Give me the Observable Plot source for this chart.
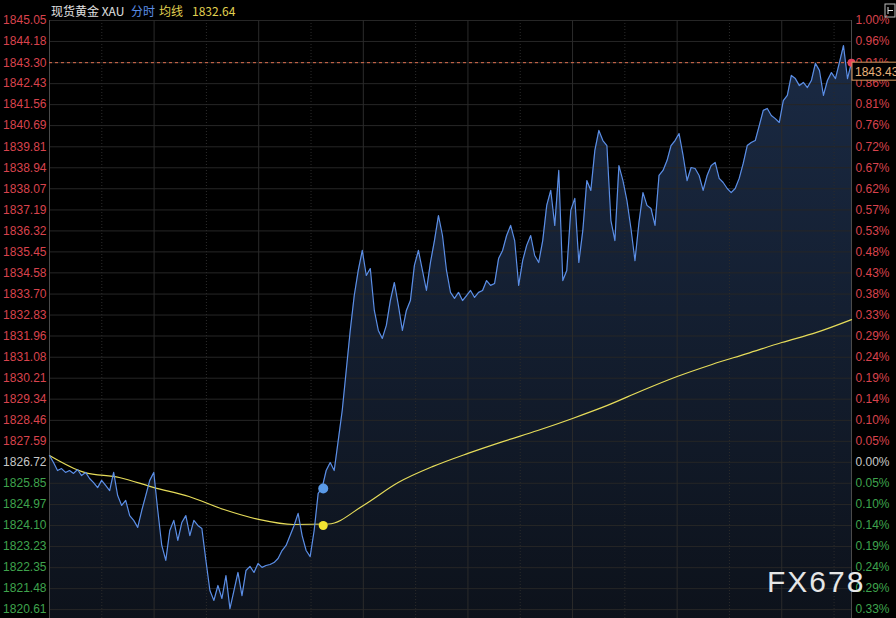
<!DOCTYPE html>
<html><head><meta charset="utf-8">
<script src="https://cdn.jsdelivr.net/npm/d3@7"></script>
<script src="https://cdn.jsdelivr.net/npm/@observablehq/plot@0.6"></script>
<style>
html,body{margin:0;padding:0;background:#000;}
#chart{position:relative;width:896px;height:618px;overflow:hidden;}
</style></head><body><div id="chart"></div>
<script>
// ---- data ----
const yTicks = [1845.05,1844.18,1843.30,1842.43,1841.56,1840.69,1839.81,1838.94,1838.07,1837.19,1836.32,1835.45,1834.58,1833.70,1832.83,1831.96,1831.08,1830.21,1829.34,1828.46,1827.59,1826.72,1825.85,1824.97,1824.10,1823.23,1822.35,1821.48,1820.61];
const pctLabels = ["1.00%","0.96%","0.91%","0.86%","0.81%","0.76%","0.72%","0.67%","0.62%","0.57%","0.53%","0.48%","0.43%","0.38%","0.33%","0.29%","0.24%","0.19%","0.14%","0.10%","0.05%","0.00%","0.05%","0.10%","0.14%","0.19%","0.24%","0.29%","0.33%"];
const baseline = 1826.72;
const prices = [
1827.00,1826.71,1826.38,1826.46,1826.30,1826.38,1826.26,1826.42,1826.17,1826.30,
1826.05,1825.88,1825.67,1825.97,1825.76,1825.55,1826.30,1825.34,1824.93,1825.14,
1824.51,1824.31,1824.02,1824.72,1825.34,1825.97,1826.30,1824.72,1823.27,1822.65,
1823.89,1824.31,1823.48,1824.22,1824.51,1823.68,1824.31,1824.10,1823.97,1822.65,
1821.40,1820.99,1821.61,1821.07,1822.02,1820.65,1821.40,1822.15,1821.19,1822.23,
1822.40,1822.15,1822.52,1822.36,1822.44,1822.48,1822.56,1822.73,1823.06,1823.27,
1823.68,1824.10,1824.60,1823.68,1823.06,1822.81,1823.89,1825.43,1825.67,1826.38,
1826.71,1826.38,1827.62,1828.87,1830.53,1832.19,1833.64,1834.68,1835.51,1834.47,
1834.76,1833.02,1832.19,1831.86,1832.40,1833.43,1834.18,1833.23,1832.19,1833.02,
1833.43,1834.89,1835.51,1834.68,1833.85,1835.01,1835.92,1836.96,1836.13,1834.68,
1833.77,1833.52,1833.77,1833.43,1833.64,1833.85,1833.56,1833.77,1833.85,1834.26,
1834.06,1834.14,1835.18,1835.51,1836.13,1836.55,1835.92,1834.06,1835.09,1835.72,
1836.13,1835.30,1835.01,1835.92,1837.38,1838.00,1836.55,1838.83,1834.26,1834.68,
1837.17,1837.67,1835.01,1836.34,1838.41,1838.00,1839.66,1840.49,1840.07,1839.86,
1836.75,1835.92,1839.03,1838.41,1837.58,1836.42,1835.09,1836.67,1837.91,1837.38,
1837.25,1836.55,1838.62,1838.83,1839.24,1839.86,1840.07,1840.36,1839.45,1838.41,
1838.95,1838.91,1838.62,1838.00,1838.62,1839.03,1839.16,1838.50,1838.33,1838.08,
1837.91,1838.08,1838.50,1839.12,1839.86,1839.99,1840.07,1840.69,1841.32,1841.40,
1841.11,1840.98,1840.82,1841.73,1841.94,1842.77,1842.64,1842.35,1842.48,1842.27,
1842.56,1843.27,1842.98,1841.94,1842.56,1842.89,1842.64,1843.31,1844.01,1842.64,
1843.30];
const avgHours = [0,1,2,3,4,5,6,7,8,9,10,11,12,13,14,15,16,17,18,19,20,21,22,23];
const avgValues = [1827.00,1826.30,1826.09,1825.67,1825.30,1824.76,1824.35,1824.14,1824.16,1824.93,1825.88,1826.55,1827.09,1827.58,1828.04,1828.54,1829.08,1829.70,1830.28,1830.78,1831.23,1831.69,1832.11,1832.64];
const lastQuote = 1843.43;
const avgLast = 1832.64;
const eventMinute = 471, eventPrice = 1825.63, eventAvg = 1824.10;
const dayMinutes = 1380;
const solidGrid = [180,360,540,720,900,1080,1260];
const dottedGrid = [90,270,450,630,810,990,1170,1350];
const yMin = 1820.24, yMax = 1845.05;

// ---- build ----
const series = prices.map((p,i)=>({t:i*dayMinutes/(prices.length-1), p}));
const avg = avgHours.map((h,i)=>({t:h*60, v:avgValues[i]}));
const last = series[series.length-1];
const tickColor = v => Math.abs(v-baseline)<0.005 ? "#c8c8c8" : (v>baseline ? "#d9434d" : "#3fa34d");

const plot = Plot.plot({
  width:896, height:618,
  marginLeft:49, marginRight:45, marginTop:20, marginBottom:0,
  x:{domain:[0,dayMinutes], axis:null},
  y:{domain:[yMin,yMax], axis:null},
  style:{background:"#000", fontFamily:"'Liberation Sans', Arial, sans-serif", fontSize:"12px"},
  marks:[
    Plot.areaY(series,{x:"t", y1:yMin, y2:"p", fill:"url(#areaGrad)"}),
    Plot.ruleY(yTicks,{stroke:"#262626"}),
    Plot.ruleX(solidGrid,{stroke:"#2b2b2b"}),
    Plot.ruleX(dottedGrid,{stroke:"#2b2b2b", strokeDasharray:"1,2"}),
    Plot.ruleX([0,dayMinutes],{stroke:"#4a4a4a"}),
    Plot.lineY(avg,{x:"t", y:"v", stroke:"#e6dc5a", strokeWidth:1.2, curve:"monotone-x"}),
    Plot.lineY(series,{x:"t", y:"p", stroke:"#5b8ee6", strokeWidth:1.2}),
    Plot.ruleY([last.p],{stroke:"#e0704f", strokeDasharray:"3,3"}),
    Plot.dot([{t:eventMinute, v:eventAvg}],{x:"t", y:"v", r:4.5, fill:"#f2e431"}),
    Plot.dot([{t:eventMinute, v:eventPrice}],{x:"t", y:"v", r:5, fill:"#5a9ae8"}),
    Plot.dot([last],{x:"t", y:"p", r:4, fill:"#e5425a"}),
    Plot.text(yTicks,{y:d=>d, frameAnchor:"left", textAnchor:"end", dx:-3, text:d=>d.toFixed(2), fill:tickColor}),
    Plot.text(yTicks,{y:d=>d, frameAnchor:"right", textAnchor:"start", dx:4, text:(d,i)=>pctLabels[i], fill:tickColor})
  ]
});
document.getElementById("chart").appendChild(plot);

const svg = d3.select(plot);
svg.insert("defs",":first-child").html(
  '<linearGradient id="areaGrad" x1="0" y1="0" x2="0" y2="1">'+
  '<stop offset="0%" stop-color="#1a2a44"/><stop offset="100%" stop-color="#0d121b"/></linearGradient>');

// title
const title = svg.append("text").attr("y",16).attr("text-anchor","start")
  .style("font-family","'Noto Sans CJK SC','Liberation Sans',sans-serif").style("font-size","12px");
title.append("tspan").attr("x",51).attr("fill","#e0e0e0").text("现货黄金 XAU");
title.append("tspan").attr("x",131).attr("fill","#5b8ee6").text("分时");
title.append("tspan").attr("x",159).attr("fill","#e0d050").text("均线");
title.append("tspan").attr("x",192).attr("fill","#e0d050").text(avgLast.toFixed(2));

// last quote box
const ys = plot.scale("y");
const y0 = ys.apply(last.p);
svg.append("rect").attr("x",852).attr("y",y0).attr("width",46).attr("height",18)
  .attr("fill","#000").attr("stroke","#d99a62");
svg.append("text").attr("x",855).attr("y",y0+13.5).attr("text-anchor","start").attr("fill","#e8b27a")
  .style("font-size","12px").text(lastQuote.toFixed(2));

// icon
svg.append("rect").attr("x",885).attr("y",4).attr("width",10).attr("height",13)
  .attr("fill","none").attr("stroke","#bbb");
svg.append("path").attr("d","M888,7V14M888,10.5H893").attr("stroke","#ddd").attr("fill","none");

// watermark
svg.append("text").attr("x",767).attr("y",592).attr("text-anchor","start").attr("fill","#e6e6e6")
  .style("font-size","30px").style("letter-spacing","2px")
  .style("font-family","'Liberation Sans', Arial, sans-serif").text("FX678");
</script></body></html>
